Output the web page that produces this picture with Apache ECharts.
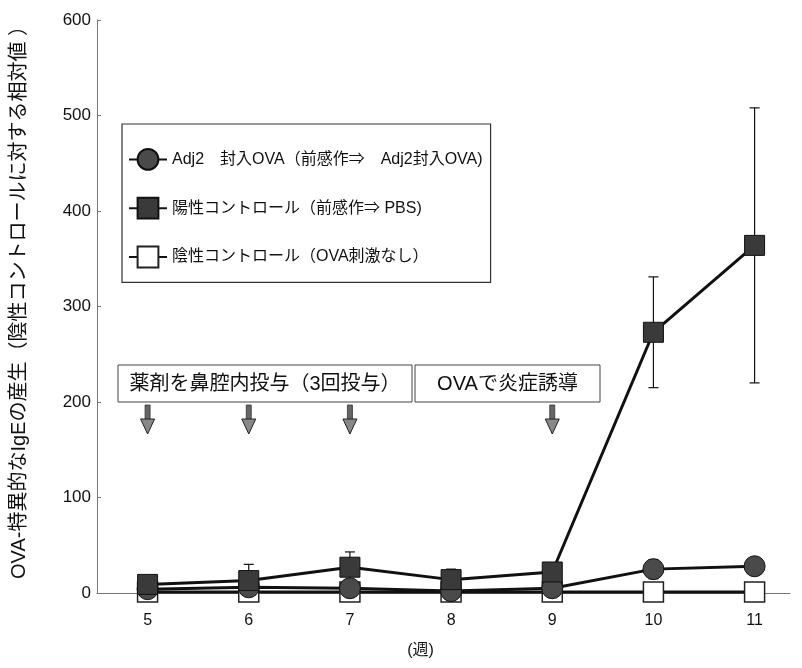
<!DOCTYPE html>
<html><head><meta charset="utf-8">
<script src="https://cdn.jsdelivr.net/npm/echarts@6/dist/echarts.min.js"></script>
<style>html,body{margin:0;padding:0;background:#fff}#c{width:802px;height:668px}</style>
</head><body><div id="c"></div>
<script>
const weeks = [5, 6, 7, 8, 9, 10, 11];
const adjName = 'Adj2　封入OVA（前感作⇒　Adj2封入OVA)';
const posName = '陽性コントロール（前感作⇒ PBS)';
const negName = '陰性コントロール（OVA刺激なし）';
const adjValues = [4, 6, 5, 2, 5, 25, 28];
const adjErr = [0, 0, 0, 0, 0, 10, 0];
const posValues = [9, 13, 27, 14, 22, 273, 364];
const posErr = [0, 17, 16, 11, 0, 58, 144];
const negValues = [1, 1, 1, 1, 1, 1, 1];
const yTicks = [0, 100, 200, 300, 400, 500, 600];
const arrowWeeks = [5, 6, 7, 9];
const box1Text = '薬剤を鼻腔内投与（3回投与）';
const box2Text = 'OVAで炎症誘導';
const yTitle = 'OVA-特異的なIgEの産生（陰性コントロールに対する相対値 ）';
const xTitle = '(週)';

const FONT = '"Liberation Sans", Arial, "Noto Sans CJK JP", sans-serif';
const chart = echarts.init(document.getElementById('c'), null, {renderer: 'canvas'});

function errRender(params, api) {
  const e = api.value(2);
  if (!e) return null;
  const x = api.value(0), y = api.value(1);
  const top = api.coord([x, y + e]);
  const bot = api.coord([x, y - e]);
  const w = 5;
  const st = {stroke: '#111', lineWidth: 1.2};
  return {type: 'group', children: [
    {type: 'line', shape: {x1: top[0], y1: top[1], x2: bot[0], y2: bot[1]}, style: st},
    {type: 'line', shape: {x1: top[0]-w, y1: top[1], x2: top[0]+w, y2: top[1]}, style: st},
    {type: 'line', shape: {x1: bot[0]-w, y1: bot[1], x2: bot[0]+w, y2: bot[1]}, style: st}
  ]};
}

const lineBase = {type: 'line', lineStyle: {color: '#111', width: 3}, symbolSize: 20, z: 3, animation: false};

chart.setOption({
  animation: false,
  textStyle: {fontFamily: FONT},
  grid: {left: 97, right: 12, top: 20, bottom: 75},
  legend: {
    orient: 'vertical', left: 122, top: 124,
    padding: [24, 8, 14, 6],
    borderColor: '#333', borderWidth: 1.2,
    itemWidth: 38, itemHeight: 26, itemGap: 26,
    selectedMode: false,
    textStyle: {fontSize: 16, color: '#111', fontFamily: FONT},
    data: [adjName, posName, negName]
  },
  xAxis: {
    type: 'value', min: 4.5, max: 11.35, interval: 0.5,
    axisLine: {lineStyle: {color: '#777', width: 1}},
    axisTick: {show: false},
    splitLine: {show: false},
    axisLabel: {
      margin: 20, fontSize: 16, color: '#111', fontFamily: FONT,
      formatter: v => (weeks.indexOf(v) >= 0 ? String(v) : '')
    },
    name: xTitle, nameLocation: 'middle', nameGap: 50,
    nameTextStyle: {fontSize: 16, color: '#111', padding: [0, 46, 0, 0], fontFamily: FONT}
  },
  yAxis: {
    type: 'value', min: yTicks[0], max: yTicks[yTicks.length-1], interval: 100,
    axisLine: {show: true, lineStyle: {color: '#777', width: 1}},
    axisTick: {show: true, inside: true, length: 4, lineStyle: {color: '#777'}},
    splitLine: {show: false},
    axisLabel: {margin: 6, fontSize: 17, color: '#111', fontFamily: FONT},
    name: yTitle, nameLocation: 'middle', nameRotate: 90, nameGap: 68,
    nameTextStyle: {fontSize: 20, color: '#111', fontFamily: FONT, padding: [0, 0, 0, 18]}
  },
  series: [
    {type: 'custom', renderItem: errRender, z: 2, silent: true,
     data: weeks.map((w, i) => [w, posValues[i], posErr[i]])},
    {type: 'custom', renderItem: errRender, z: 2, silent: true,
     data: weeks.map((w, i) => [w, adjValues[i], adjErr[i]])},
    Object.assign({}, lineBase, {name: negName, symbol: 'rect',
      itemStyle: {color: '#fff', borderColor: '#222', borderWidth: 1.5},
      data: weeks.map((w, i) => [w, negValues[i]])}),
    Object.assign({}, lineBase, {name: adjName, symbol: 'circle', symbolSize: 21,
      itemStyle: {color: '#4a4a4a', borderColor: '#111', borderWidth: 1},
      data: weeks.map((w, i) => [w, adjValues[i]])}),
    Object.assign({}, lineBase, {name: posName, symbol: 'rect',
      itemStyle: {color: '#3a3a3a', borderColor: '#111', borderWidth: 1},
      data: weeks.map((w, i) => [w, posValues[i]])})
  ]
});

// annotations
const graphics = [];
function box(x1, x2, text) {
  graphics.push({type: 'rect', shape: {x: x1, y: 365, width: x2 - x1, height: 37},
    style: {fill: '#fff', stroke: '#444', lineWidth: 1}, z: 10});
  graphics.push({type: 'text', x: (x1 + x2) / 2, y: 384, z: 11,
    style: {text: text, fontSize: 20, fill: '#111', fontFamily: FONT, align: 'center', verticalAlign: 'middle'}});
}
box(118, 412, box1Text);
box(415, 600, box2Text);
arrowWeeks.forEach(w => {
  const px = chart.convertToPixel({xAxisIndex: 0}, w);
  graphics.push({type: 'rect', shape: {x: px - 2.5, y: 405, width: 5, height: 15},
    style: {fill: '#666', stroke: '#333', lineWidth: 0.8}, z: 10});
  graphics.push({type: 'polygon', shape: {points: [[px - 7, 419], [px + 7, 419], [px, 434]]},
    style: {fill: '#888', stroke: '#222', lineWidth: 1}, z: 10});
});
chart.setOption({graphic: graphics});
</script>
</body></html>
